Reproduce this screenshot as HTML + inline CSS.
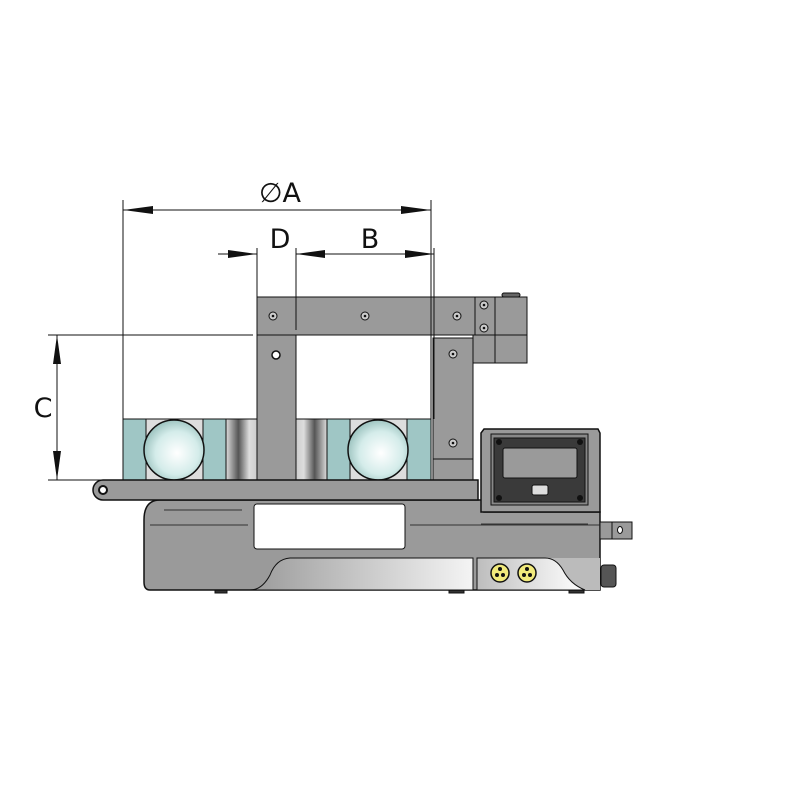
<!DOCTYPE html>
<html><head><meta charset="utf-8"><style>html,body{margin:0;padding:0;background:#fff}svg{display:block}</style></head>
<body>
<svg width="800" height="800" viewBox="0 0 800 800" xmlns="http://www.w3.org/2000/svg">
<defs>
<radialGradient id="ball" cx="0.55" cy="0.55" r="0.6"><stop offset="0" stop-color="#fff"/><stop offset="0.6" stop-color="#d4ecea"/><stop offset="1" stop-color="#93bcb8"/></radialGradient>
<linearGradient id="cylL" x1="0" x2="1"><stop offset="0" stop-color="#dcdcdc"/><stop offset="0.4" stop-color="#555"/><stop offset="0.75" stop-color="#ddd"/><stop offset="1" stop-color="#ccc"/></linearGradient>
<linearGradient id="cylR" x1="1" x2="0"><stop offset="0" stop-color="#dcdcdc"/><stop offset="0.4" stop-color="#555"/><stop offset="0.75" stop-color="#ddd"/><stop offset="1" stop-color="#ccc"/></linearGradient>
<linearGradient id="panel" x1="0" x2="1"><stop offset="0" stop-color="#9a9a9a"/><stop offset="0.5" stop-color="#c8c8c8"/><stop offset="1" stop-color="#f4f4f4"/></linearGradient>
<linearGradient id="conn" x1="0" x2="1"><stop offset="0" stop-color="#bdbdbd"/><stop offset="0.6" stop-color="#e6e6e6"/><stop offset="1" stop-color="#fff"/></linearGradient>
</defs>
<g stroke="#111" stroke-width="1">
<!-- feet -->
<rect x="215" y="588" width="12" height="5" fill="#333"/>
<rect x="449" y="588" width="15" height="5" fill="#333"/>
<rect x="569" y="588" width="15" height="5" fill="#333"/>
<!-- body -->
<path d="M160 500 L484 500 L484 512 L600 512 L600 590 L150 590 Q144 590 144 582 L144 520 Q144 500 160 500 Z" fill="#9a9a9a" stroke-width="1.5"/>
<path d="M250 590 Q262 590 270 575 Q276 559 290 558 L473 558 L473 590 Z" fill="url(#panel)"/>
<rect x="477" y="558" width="123" height="32" fill="#bbb" stroke="none"/>
<path d="M477 558 L545 558 Q556 558 563 570 Q570 584 585 590 L477 590 Z" fill="url(#conn)"/>
<line x1="164" y1="510" x2="242" y2="510" stroke="#333"/>
<line x1="150" y1="525" x2="248" y2="525" stroke="#333"/>
<line x1="410" y1="525" x2="600" y2="525" stroke="#333"/>
<rect x="254" y="504" width="151" height="45" rx="3" fill="#fff"/>
<!-- yellow connectors -->
<g fill="#f1ea7c" stroke="#111" stroke-width="1.5"><circle cx="500" cy="573" r="9"/><circle cx="527" cy="573" r="9"/></g>
<g fill="#111" stroke="none"><circle cx="500" cy="569" r="2"/><circle cx="497" cy="575" r="2"/><circle cx="503" cy="575" r="2"/><circle cx="527" cy="569" r="2"/><circle cx="524" cy="575" r="2"/><circle cx="530" cy="575" r="2"/></g>
<!-- right side parts -->
<rect x="600" y="522" width="32" height="17" fill="#9a9a9a"/>
<line x1="612" y1="522" x2="612" y2="539"/>
<ellipse cx="620" cy="530" rx="2.5" ry="3.5" fill="#fff"/>
<rect x="601" y="565" width="15" height="22" rx="3" fill="#555"/>
<!-- control box -->
<path d="M484 429 L598 429 L600 433 L600 512 L481 512 L481 433 Z" fill="#9a9a9a" stroke-width="1.5"/>
<line x1="481" y1="524" x2="588" y2="524" stroke="#333"/>
<rect x="491" y="434" width="97" height="71" fill="#888"/>
<rect x="494" y="438" width="91" height="64" fill="#3a3a3a"/>
<rect x="503" y="448" width="74" height="30" rx="2" fill="#9a9a9a"/>
<rect x="532" y="485" width="16" height="10" rx="2" fill="#ddd"/>
<g fill="#111" stroke="none"><circle cx="499" cy="442" r="3"/><circle cx="580" cy="442" r="3"/><circle cx="499" cy="498" r="3"/><circle cx="580" cy="498" r="3"/></g>
<!-- bearing -->
<rect x="123" y="419" width="308" height="61" fill="#ddd"/>
<rect x="123" y="419" width="23" height="61" fill="#9fc6c5"/>
<rect x="203" y="419" width="23" height="61" fill="#9fc6c5"/>
<rect x="226" y="419" width="31" height="61" fill="url(#cylL)"/>
<rect x="296" y="419" width="31" height="61" fill="url(#cylR)"/>
<rect x="327" y="419" width="23" height="61" fill="#9fc6c5"/>
<rect x="407" y="419" width="24" height="61" fill="#9fc6c5"/>
<circle cx="174" cy="450" r="30" fill="url(#ball)" stroke-width="1.5"/>
<circle cx="378" cy="450" r="30" fill="url(#ball)" stroke-width="1.5"/>
<!-- yoke -->
<rect x="257" y="335" width="39" height="145" fill="#9a9a9a"/>
<rect x="433" y="338" width="40" height="142" fill="#9a9a9a"/>
<line x1="433" y1="459" x2="473" y2="459"/>
<rect x="257" y="297" width="218" height="38" fill="#9a9a9a"/>
<rect x="473" y="335" width="54" height="28" fill="#9a9a9a"/>
<rect x="475" y="297" width="20" height="38" fill="#9a9a9a"/>
<rect x="495" y="297" width="32" height="38" fill="#9a9a9a"/>
<line x1="495" y1="335" x2="495" y2="363"/>
<rect x="502" y="293" width="18" height="4" rx="2" fill="#666"/>
<g fill="#ccc" stroke="#111"><circle cx="273" cy="316" r="4"/><circle cx="365" cy="316" r="4"/><circle cx="457" cy="316" r="4"/><circle cx="484" cy="305" r="4"/><circle cx="484" cy="328" r="4"/><circle cx="453" cy="354" r="4"/><circle cx="453" cy="443" r="4"/></g>
<g fill="#111" stroke="none"><circle cx="273" cy="316" r="1.3"/><circle cx="365" cy="316" r="1.3"/><circle cx="457" cy="316" r="1.3"/><circle cx="484" cy="305" r="1.3"/><circle cx="484" cy="328" r="1.3"/><circle cx="453" cy="354" r="1.3"/><circle cx="453" cy="443" r="1.3"/></g>
<circle cx="276" cy="355" r="4" fill="#fff" stroke-width="1.5"/>
<!-- base bar -->
<path d="M103 480 L478 480 L478 500 L103 500 A10 10 0 0 1 103 480 Z" fill="#9a9a9a" stroke-width="1.5"/>
<circle cx="103" cy="490" r="4" fill="#fff" stroke-width="2"/>
</g>
<!-- dimensions -->
<g stroke="#111" stroke-width="1" fill="none">
<line x1="123" y1="200" x2="123" y2="419"/>
<line x1="431" y1="200" x2="431" y2="419"/>
<line x1="434" y1="248" x2="434" y2="419"/>
<line x1="257" y1="248" x2="257" y2="297"/>
<line x1="296" y1="248" x2="296" y2="330"/>
<line x1="123" y1="210" x2="431" y2="210"/>
<line x1="218" y1="254" x2="257" y2="254"/>
<line x1="296" y1="254" x2="434" y2="254"/>
<line x1="48" y1="335" x2="253" y2="335"/>
<line x1="48" y1="480" x2="123" y2="480"/>
<line x1="57" y1="335" x2="57" y2="480"/>
</g>
<g fill="#111">
<polygon points="123,210 153,206 153,214"/><polygon points="431,210 401,206 401,214"/>
<polygon points="257,254 228,250 228,258"/><polygon points="296,254 325,250 325,258"/>
<polygon points="434,254 405,250 405,258"/>
<polygon points="57,335 53,364 61,364"/><polygon points="57,480 53,451 61,451"/>
</g>
<g font-family="'DejaVu Sans', 'Liberation Sans', sans-serif" font-size="27" fill="#111" text-anchor="middle">
<text x="280" y="202">∅A</text>
<text x="280" y="248">D</text>
<text x="370" y="248">B</text>
<text x="43" y="417">C</text>
</g>
</svg>
</body></html>
